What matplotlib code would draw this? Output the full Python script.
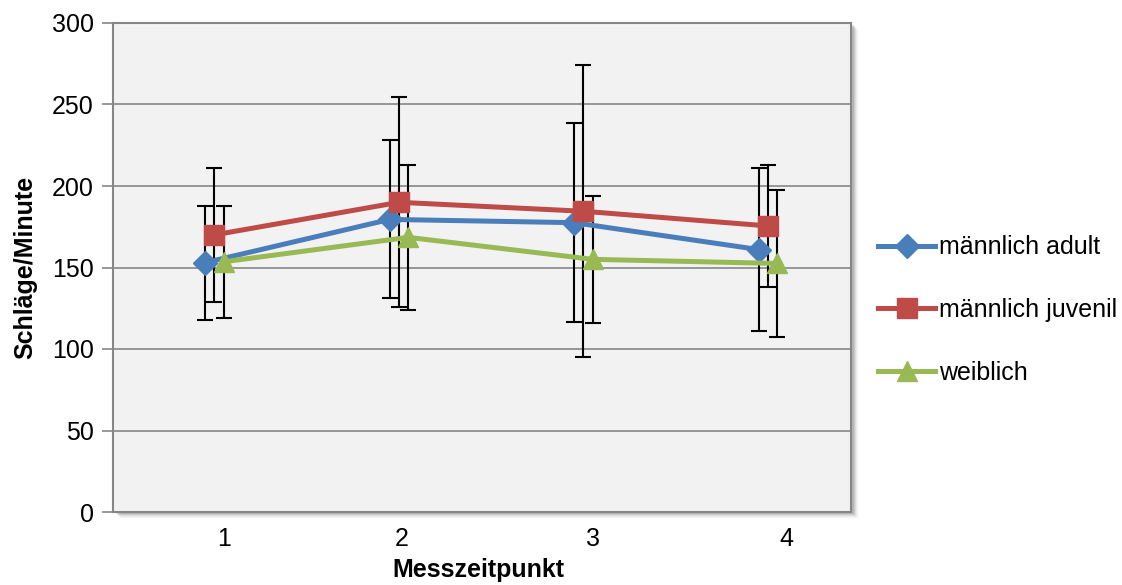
import matplotlib
matplotlib.use("Agg")
import matplotlib.pyplot as plt
import matplotlib.patches as mpatches
import numpy as np

plt.rcParams['font.family'] = ['Liberation Sans', 'DejaVu Sans']

zeitpunkte = ['1', '2', '3', '4']
adult = [153, 179.5, 177.5, 161]
adult_err = [35, 48.5, 61, 50]
juvenil = [170, 190, 184.5, 175.5]
juvenil_err = [41, 64.5, 89.5, 37.5]
weiblich = [153.5, 168.5, 155, 152.5]
weiblich_err = [34.5, 44.5, 39, 45]

series = [
    ('männlich adult', adult, adult_err, '#4a7ebb', 'D', 12),
    ('männlich juvenil', juvenil, juvenil_err, '#be4b48', 's', 14),
    ('weiblich', weiblich, weiblich_err, '#98b954', '^', 14.5),
]
offsets = [0.0, 0.05, 0.10]
FS = 18

W, H = 1122, 585
fig = plt.figure(figsize=(W / 100, H / 100), dpi=100)
fig.patch.set_facecolor('white')

L, R, T, B = 113, 851, 23, 512
ax = fig.add_axes([L / W, (H - B) / H, (R - L) / W, (B - T) / H])

# shadow behind the plot area
for i, a in enumerate([0.10, 0.08, 0.06, 0.04, 0.025, 0.015]):
    d = i + 1
    fig.patches.append(mpatches.Rectangle(((L + d + 2) / W, (H - B - d - 1) / H),
                                          (R - L) / W, (B - T) / H,
                                          transform=fig.transFigure,
                                          facecolor='black', alpha=a,
                                          edgecolor='none', zorder=-5))

ax.set_facecolor('#f2f2f2')
x = np.arange(len(zeitpunkte))

for (name, vals, errs, col, mk, ms), off in zip(series, offsets):
    ax.errorbar(x + off, vals, yerr=errs, fmt='none', ecolor='black',
                elinewidth=1.5, capsize=6, capthick=1.5, zorder=2)

handles = []
for (name, vals, errs, col, mk, ms), off in zip(series, offsets):
    h, = ax.plot(x + off, vals, color=col, lw=3.6, marker=mk, ms=ms,
                 markeredgecolor=col, label=name, zorder=3, clip_on=False)
    handles.append(h)

ax.set_xlim(-0.5, len(zeitpunkte) - 0.5)
ax.set_ylim(0, 300)
ax.set_yticks(np.arange(0, 301, 50))
ax.yaxis.grid(True, color='#868686', lw=1.2, zorder=0)
ax.set_axisbelow(True)

ax.set_xticks(x + np.array([0.1, 1.066 - 1, 2.10 - 2, 3.148 - 3]))
ax.set_xticklabels(zeitpunkte)
ax.tick_params(axis='x', length=0, pad=11, labelsize=FS)
ax.tick_params(axis='y', length=8, width=1.2, color='#868686', pad=6, labelsize=FS)

for s in ax.spines.values():
    s.set_color('#868686')
    s.set_linewidth(1.5)

ax.set_xlabel('Messzeitpunkt', fontsize=FS, fontweight='bold', labelpad=6)
ax.xaxis.set_label_coords(0.495, -0.095)
ax.set_ylabel('Schläge/Minute', fontsize=FS, fontweight='bold', labelpad=10)

fig.legend(handles=handles, loc='center left', bbox_to_anchor=(868 / W, 0.47),
           frameon=False, fontsize=FS, handlelength=2.3, handletextpad=0.15,
           labelspacing=1.55, borderaxespad=0)

fig.savefig('out.png', dpi=100)
